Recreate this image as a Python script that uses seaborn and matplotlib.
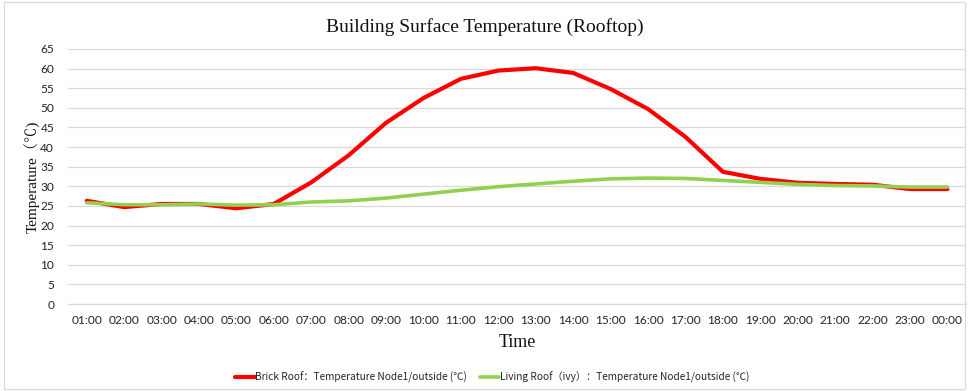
import numpy as np
import pandas as pd
import seaborn as sns
import matplotlib
matplotlib.use("Agg")
import matplotlib.pyplot as plt
from matplotlib.patches import Rectangle
from matplotlib.ticker import FixedLocator, MultipleLocator

hours = ["01:00", "02:00", "03:00", "04:00", "05:00", "06:00", "07:00", "08:00",
         "09:00", "10:00", "11:00", "12:00", "13:00", "14:00", "15:00", "16:00",
         "17:00", "18:00", "19:00", "20:00", "21:00", "22:00", "23:00", "00:00"]

brick_roof = [26.3, 24.7, 25.5, 25.5, 24.4, 25.5, 31.0, 37.9, 46.2, 52.5, 57.4, 59.5,
              60.1, 58.9, 54.8, 49.7, 42.6, 33.7, 31.9, 30.9, 30.6, 30.4, 29.3, 29.3]
living_roof = [25.8, 25.3, 25.3, 25.5, 25.2, 25.3, 26.0, 26.3, 27.0, 28.0, 29.0, 29.9,
               30.6, 31.3, 31.9, 32.1, 32.0, 31.5, 31.0, 30.5, 30.2, 30.1, 29.8, 29.8]

series_names = ["Brick Roof：Temperature Node1/outside (℃)",
                "Living Roof（ivy）：Temperature Node1/outside (℃)"]
series_colors = ["#FF0000", "#92D050"]

df = pd.DataFrame({
    "pos": list(range(len(hours))) * 2,
    "temp": brick_roof + living_roof,
    "series": [series_names[0]] * len(hours) + [series_names[1]] * len(hours),
})

sns.set_style("white")
plt.rcParams["font.family"] = ["Lato", "Noto Sans CJK SC", "DejaVu Sans"]

fig = plt.figure(figsize=(9.69, 3.91), dpi=100)
ax = fig.add_axes([0.0702, 0.2225, 0.9268, 0.6522])

for name, color, lw in zip(series_names, series_colors, [3.0, 2.6]):
    sub = df[df["series"] == name]
    sns.lineplot(data=sub, x="pos", y="temp", color=color, linewidth=lw,
                 ax=ax, label=name, sort=False, solid_capstyle="round",
                 solid_joinstyle="round")

ax.set_xlim(-0.5, len(hours) - 0.5)
ax.set_ylim(0, 65)
ax.yaxis.set_major_locator(MultipleLocator(5))
ax.grid(axis="y", color="#D9D9D9", linewidth=0.9)
ax.set_axisbelow(True)

ax.set_xticks(range(len(hours)))
ax.set_xticklabels(hours)
ax.xaxis.set_minor_locator(FixedLocator(np.arange(-0.5, len(hours), 1.0)))
ax.tick_params(axis="x", which="major", length=0, pad=8, labelsize=8.6, colors="#222222")
ax.tick_params(axis="x", which="minor", length=4, color="#D9D9D9", width=0.9)
ax.tick_params(axis="y", length=0, pad=10, labelsize=8.6, colors="#222222")

for side in ["top", "right", "left"]:
    ax.spines[side].set_visible(False)
ax.spines["bottom"].set_color("#D9D9D9")
ax.spines["bottom"].set_linewidth(0.9)

serif = ["Liberation Serif", "Noto Serif CJK SC", "Noto Sans CJK SC"]
ax.set_xlabel("Time", family=serif, fontsize=13, labelpad=6, color="#111111")
ax.set_ylabel("Temperature（℃)", family=serif, fontsize=11, labelpad=0, color="#111111")
fig.text(0.5, 0.932, "Building Surface Temperature (Rooftop)", family=serif,
         fontsize=14, ha="center", va="center", color="#111111")

ax.get_legend().remove()
handles, labels = ax.get_legend_handles_labels()
fig.legend(handles, labels, loc="center", bbox_to_anchor=(0.508, 0.035), ncol=2,
           frameon=False, handlelength=1.9, handletextpad=0.05,
           columnspacing=1.3, prop={"family": ["Noto Sans CJK SC", "DejaVu Sans"], "size": 7.3})

fig.patches.append(Rectangle((0.004, 0.004), 0.992, 0.99, transform=fig.transFigure,
                             fill=False, edgecolor="#D9D9D9", linewidth=0.9))

fig.savefig("out.png", dpi=100)
